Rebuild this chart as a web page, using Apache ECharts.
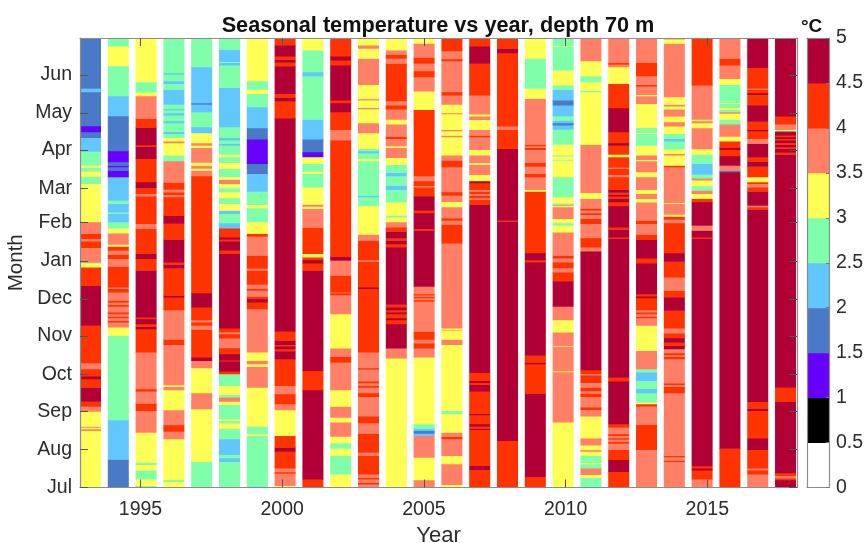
<!DOCTYPE html>
<html><head><meta charset="utf-8">
<script src="https://cdn.jsdelivr.net/npm/echarts@6/dist/echarts.min.js"></script>
<style>html,body{margin:0;padding:0;background:#fff}#c{width:867px;height:543px}</style>
</head><body><div id="c"></div>
<script>
const monthNames = ['Jul','Aug','Sep','Oct','Nov','Dec','Jan','Feb','Mar','Apr','May','Jun'];
const monthStarts = [0,31,62,92,123,153,184,215,243,274,304,335];
const yearTicks = [1995,2000,2005,2010,2015];
const classColors = ['#ffffff','#000000','#6600ff','#4a7ac7','#62c6ff','#80ffab','#ffff55','#ff8066','#ff3300','#b00035'];
const classEdges = [0,0.5,1,1.5,2,2.5,3,3.5,4,4.5,5];
// Each season: [day since 1 Jul where the reading begins, temperature in deg C]
const t1993=[[0,3.25],[46.3,3.75],[47.7,3.25],[49,3.75],[49.8,3.25],[62,3.75],[66,4.25],[70,4.75],[81.5,4.25],[88.3,4.75],[90.5,4.25],[96.4,3.75],[101.3,4.25],[131.7,4.75],[164,4.25],[179,3.25],[182.3,2.75],[183,3.75],[194.8,4.25],[200.2,3.75],[202.1,4.25],[206.2,3.75],[215.7,3.25],[246.8,2.75],[252.8,3.25],[256.9,2.75],[259.9,3.25],[261.7,2.75],[273.1,2.25],[284.2,1.75],[288.8,1.25],[293.7,1.75],[321.4,2.25],[324.1,1.75]];
const t1994=[[0,1.75],[23,2.25],[55,2.75],[123.5,3.25],[130.3,3.75],[134.4,4.25],[135.7,3.75],[137.9,4.25],[139,3.75],[141.1,4.25],[142.5,3.75],[147.1,4.25],[148.7,3.75],[150.4,4.25],[152,3.75],[158.8,4.25],[161.5,3.75],[162.8,4.25],[179.6,3.75],[185.9,4.25],[189.4,3.75],[192.6,4.25],[195.9,3.25],[197.5,3.75],[206.7,3.25],[210.8,2.75],[215.7,2.25],[222.5,2.75],[223.8,2.25],[230.6,2.75],[233.3,2.25],[252.3,1.25],[257.7,1.75],[260.4,1.25],[261.7,1.75],[264.5,1.25],[273.4,1.75],[301.9,2.25],[318.1,2.75],[342.5,3.25],[358.5,2.75]];
const t1995=[[0,2.75],[1.6,3.25],[7,2.75],[14.3,3.25],[18.6,2.75],[20.5,3.25],[44.9,3.75],[62.5,4.25],[68.5,3.75],[78.3,4.25],[80.2,3.75],[110,4.25],[128.9,4.75],[130.8,4.25],[133,4.75],[137.1,4.25],[138.4,4.75],[176.4,4.25],[186,4.75],[190,4.25],[210.3,3.75],[214.3,4.25],[236.8,3.75],[238.7,4.25],[243.6,4.75],[248.2,4.25],[267.2,4.75],[277.2,4.25],[278.3,4.75],[292.4,4.25],[299.7,3.75],[318.1,3.25],[321.4,2.75],[329.5,3.25]];
const t1996=[[0,3.25],[4.8,2.75],[6.5,3.25],[39.5,3.75],[45.7,4.25],[50.9,3.75],[63.1,3.25],[79.4,3.75],[82.1,3.25],[83.4,3.75],[116.2,4.25],[120.3,3.75],[144.4,4.25],[154.7,4.75],[156,4.25],[178.5,4.75],[181.2,4.25],[183.2,4.75],[201.6,4.25],[214.6,4.75],[220.8,4.25],[236,3.75],[237.9,4.25],[240,3.75],[242.2,4.25],[247.9,3.75],[265.3,2.75],[269.9,3.25],[279.9,3.75],[281.3,3.25],[284.2,2.75],[287.5,2.25],[289.1,2.75],[296.2,2.25],[297.8,2.75],[302.4,2.25],[304.3,2.75],[306.5,2.25],[307.5,2.75],[311.3,2.25],[323.3,2.75],[328.1,2.25],[330.3,2.75],[335.5,2.25],[336.8,2.75]];
const t1997=[[0,2.75],[21.1,3.25],[63.9,3.75],[76.9,3.25],[97.2,3.75],[103.2,4.75],[105.9,4.25],[128.4,3.75],[131.7,4.25],[134.4,3.75],[136.3,4.25],[146.6,4.75],[158.2,4.25],[253.1,3.75],[257.7,3.25],[259.3,3.75],[261.7,3.25],[264.2,3.75],[276.1,3.25],[278,3.75],[279.9,3.25],[288,2.25],[292.9,2.75],[305.1,2.25],[311.3,1.75],[312.4,2.25],[341.7,2.75]];
const t1998=[[0,2.75],[21.1,2.25],[24.1,2.75],[26.8,2.25],[39.5,2.75],[48.2,3.25],[52.3,2.75],[54.4,3.25],[55.8,2.75],[67.4,3.25],[70.1,3.75],[73.4,2.75],[75.6,3.25],[82.9,2.75],[92.4,4.25],[94.5,4.75],[102.7,4.25],[103.5,4.75],[108.6,4.25],[113.5,3.75],[121.4,4.25],[124.9,3.75],[126.5,4.25],[129.5,4.75],[190,4.25],[192.6,4.75],[200.2,4.25],[201.6,4.75],[203.5,4.25],[210.8,2.25],[214.9,2.75],[222.5,2.25],[225.2,3.25],[230.6,2.75],[235.2,3.25],[240.1,2.75],[243.3,3.25],[246.8,3.75],[250.4,3.25],[252.3,2.75],[259,3.25],[263.9,2.75],[268.5,3.25],[270.7,2.75],[278,2.25],[279.4,2.75],[282.1,2.25],[284.2,2.75],[292.9,2.25],[324.9,2.75],[343,2.25],[345.2,2.75],[346,2.25],[355.8,2.75]];
const t1999=[[0,2.25],[1,2.75],[42.2,3.25],[43.6,2.75],[49.8,3.25],[81.5,3.75],[98.3,3.25],[100.5,3.75],[103.2,3.25],[110,3.75],[145.2,4.25],[150.6,4.75],[153.3,4.25],[155.2,3.75],[160.1,4.25],[161.7,3.75],[165,4.25],[176.4,3.75],[178,4.25],[188.6,3.75],[204,4.25],[206.2,3.25],[215.7,2.75],[227.1,3.25],[229.8,2.75],[240.6,2.25],[255,1.75],[263.1,1.25],[282.9,1.75],[292.1,2.25],[309.2,2.75],[320,3.25],[323.3,2.75],[330.3,3.25]];
const t2000=[[0,3.25],[1.6,3.75],[11.6,4.25],[12.7,3.75],[15.9,4.25],[29.5,4.75],[32.7,4.25],[42.2,3.25],[63.1,3.75],[68,4.25],[76.1,3.75],[82.9,4.25],[104.5,4.75],[110.8,4.25],[112.7,4.75],[114.9,4.25],[116.2,4.75],[119.5,4.25],[127,4.75],[300,4.25],[314,4.75],[316.8,4.25],[320,4.75],[342.2,4.25],[345.5,4.75],[347.7,4.25],[350.4,4.75],[359.3,4.25]];
const t2001=[[0,4.25],[7,4.75],[79.4,4.25],[95.1,4.75],[176.4,4.25],[182.3,4.75],[185,4.25],[187.2,3.25],[190,4.25],[211.1,3.75],[226.5,3.25],[228.4,3.75],[230,3.25],[244.1,2.75],[255,3.25],[256.9,2.75],[263.1,3.25],[268.5,1.25],[272.6,1.75],[282.9,2.25],[299.1,2.75],[334.4,2.25],[337.6,2.75],[355.2,3.25]];
const t2002=[[0,3.25],[11,2.75],[26,3.25],[31.9,2.75],[36.3,3.25],[41.7,3.75],[53.1,3.25],[57.1,3.75],[66,3.25],[79.4,3.75],[101.8,4.25],[106.5,3.75],[113.2,3.25],[141.1,3.75],[156.6,4.25],[158.2,3.75],[158.8,4.25],[172.3,3.75],[184.5,4.75],[187.8,4.25],[282.1,3.75],[290.7,4.25],[305.1,4.75],[312.4,4.25],[314.6,4.75],[343,4.25],[347.1,4.75],[350.4,4.25]];
const t2003=[[0,3.75],[2.9,4.25],[4.3,3.75],[7,4.25],[8.4,3.75],[11,4.25],[26,3.75],[28.7,4.25],[44.1,3.75],[52.5,4.25],[58,3.75],[73.9,4.25],[76.9,3.75],[81.5,4.25],[83.1,3.75],[85,4.25],[86.4,3.75],[96.2,4.25],[97.2,3.75],[110,4.25],[161.5,4.75],[162.8,4.25],[183.7,3.75],[185,4.25],[200.8,3.75],[205.6,3.25],[228.7,2.75],[236,2.25],[237.4,2.75],[265.3,3.25],[267.2,2.75],[271.8,2.25],[273.4,2.75],[275.3,3.25],[288,3.75],[296.2,3.25],[307.5,3.75],[308.6,3.25],[314.6,3.75],[315.7,3.25],[327.3,3.75],[348.5,3.25],[356.6,3.75],[359.3,3.25]];
const t2004=[[0,3.25],[105.1,3.75],[113.2,4.75],[133,4.25],[136.3,4.75],[137.9,4.25],[141.1,4.75],[142.5,4.25],[144.4,4.75],[146.6,4.25],[148.7,4.75],[195.3,4.25],[198,4.75],[200.8,4.25],[202.9,4.75],[208.1,4.25],[211.6,3.75],[215.7,3.25],[219.7,2.75],[221.1,3.25],[231.9,2.75],[242,2.25],[245.5,2.75],[253.1,2.25],[255.8,2.75],[262.3,3.25],[268,3.75],[276.1,3.25],[277.5,3.75],[283.4,4.25],[285.3,3.75],[295.1,3.25],[299.1,3.75],[307.3,4.25],[310.5,3.75],[314,4.25],[344.4,3.75],[348.5,4.25],[351.7,3.75],[355.2,3.25]];
const t2005=[[0,3.25],[0.8,3.75],[6.2,3.25],[24.6,3.75],[42.2,2.25],[44.1,1.75],[46.3,2.25],[48.2,2.75],[51.7,3.25],[105.9,3.75],[113.2,4.25],[117.3,3.75],[120.3,4.25],[126.8,3.75],[151.2,4.25],[152.5,3.75],[154.1,4.25],[155.2,3.75],[156.3,4.25],[157.4,3.75],[163.4,4.75],[208.9,4.25],[210.3,4.75],[223,4.25],[225.2,4.75],[236.8,4.25],[244.1,3.75],[245.2,4.25],[249,3.75],[253.1,4.25],[307,3.25],[321.9,3.75],[333.6,4.25],[338.4,3.75],[344.4,4.25],[349.3,3.75],[360.7,3.25]];
const t2006=[[0,3.75],[0.8,3.25],[2.4,3.75],[19.2,3.25],[26,3.75],[39.5,4.25],[41.4,3.75],[44.9,3.25],[59.8,2.75],[62.5,3.25],[116.2,3.75],[120.3,3.25],[127.6,3.75],[128.1,3.25],[129.5,3.75],[198.6,4.25],[213.8,3.75],[217,4.25],[218.9,3.75],[227.9,3.25],[232.2,3.75],[237.4,4.25],[240.1,3.75],[260.4,4.25],[265.8,3.75],[269.9,3.25],[284.8,3.75],[286.1,3.25],[289.7,3.75],[290.7,3.25],[303.5,3.75],[304.3,3.25],[311.3,3.75],[318.7,4.25],[321.4,3.75],[346.6,4.25],[348.2,3.75],[354.7,4.25]];
const t2007=[[0,4.25],[14.6,4.75],[17.8,4.25],[47.1,4.75],[48.2,4.25],[49.8,4.75],[51.7,4.25],[59,4.75],[60.1,4.25],[78.3,4.75],[83.7,4.25],[85.3,4.75],[86.9,4.25],[93.4,4.75],[230,4.25],[233.8,3.75],[235.2,4.25],[237.4,3.75],[238.7,4.25],[240.6,3.75],[242,4.25],[247.4,4.75],[249,3.25],[254.2,3.75],[262.3,3.25],[263.9,3.75],[269.9,3.25],[274.5,3.75],[284.8,4.25],[286.1,3.75],[290.7,3.25],[298.9,3.75],[301.6,3.25],[303.2,3.75],[318.7,4.25],[344.4,4.75],[358.5,4.25]];
const t2008=[[0,4.25],[38.2,4.75],[216.2,4.25],[217,4.75],[275.3,4.25],[290.7,3.75],[293.5,4.25],[353.1,4.75],[356.6,4.25]];
const t2009=[[0,4.25],[8.9,4.75],[76.6,4.25],[100.5,4.75],[101.8,4.25],[107.3,4.75],[183.1,4.25],[185,4.75],[190.7,4.25],[240.6,3.25],[242,3.75],[252.3,4.25],[255,3.75],[260.9,4.25],[263.9,3.75],[274.5,4.25],[276.1,3.75],[277.5,4.25],[278.8,3.75],[315.9,3.25],[324.1,2.75],[348.5,3.25]];
const t2010=[[0,3.25],[53.1,3.75],[94,3.25],[94.8,3.75],[114.6,3.25],[115.4,3.75],[126.2,3.25],[136.3,3.75],[147.1,4.75],[167.7,4.25],[175,3.75],[178.5,4.25],[183.2,3.75],[186.4,4.25],[188.6,3.75],[207.5,3.25],[213,2.75],[214.9,3.25],[218.4,3.75],[227.9,3.25],[229.2,3.75],[230,2.75],[231.1,3.25],[236,2.75],[252.3,3.25],[265.8,2.75],[266.6,3.25],[269.1,2.75],[269.9,3.25],[278.8,2.75],[291,2.25],[294.3,1.75],[296.2,2.25],[298.3,2.75],[301.9,2.25],[310.5,1.75],[314.6,2.25],[323.3,2.75],[326.8,3.25],[339,2.75],[358,3.25],[358.8,2.75]];
const t2011=[[0,2.75],[8.4,3.25],[10.5,3.75],[15.9,2.75],[19.2,3.25],[20.3,2.75],[26,3.25],[29.5,3.75],[30.6,3.25],[34.6,3.75],[40.1,3.25],[58,3.75],[63.4,4.25],[65.3,3.75],[73.9,4.25],[76.6,3.75],[78.5,4.25],[81.5,3.75],[85.3,4.25],[91.3,3.75],[92.6,4.25],[95.6,4.75],[192.1,3.75],[195.3,4.25],[202.9,3.75],[214.3,4.25],[218.4,3.75],[221.6,4.25],[223,3.75],[225.2,4.25],[226.8,3.75],[234.6,3.25],[239.5,3.75],[278.5,3.25],[321.4,2.75],[322.4,3.25],[329.5,2.75],[334.4,3.25],[346.6,3.75]];
const t2012=[[0,3.75],[0.8,4.25],[13,4.75],[22.7,4.25],[30.9,3.75],[36,4.25],[37.3,3.75],[39.2,4.25],[40.3,3.75],[42.2,4.25],[43.6,3.75],[49,4.25],[51.7,4.75],[86.4,4.25],[89.6,4.75],[202.1,4.25],[203.5,4.75],[209.7,4.25],[211.6,4.75],[228.7,4.25],[232,4.75],[234.6,4.25],[236.8,4.75],[238.2,4.25],[239.8,4.75],[242.2,4.25],[252.3,3.75],[254.2,4.25],[259,3.75],[260.1,4.25],[268.5,3.25],[270.7,4.25],[278,4.75],[279.9,4.25],[288.8,4.75],[308.4,4.25],[328.1,3.25],[333.6,3.25],[341.7,3.75],[343.6,4.25],[345.2,3.75]];
const t2013=[[0,3.75],[30.8,4.25],[51.2,3.75],[66.1,4.25],[68,3.25],[69.3,2.75],[76.9,2.25],[80.4,2.75],[86.9,2.25],[93.7,2.75],[96.4,3.75],[111.3,3.25],[131.7,3.75],[137.9,4.25],[139,3.75],[141.1,4.25],[142.5,3.75],[144.4,4.25],[154.1,4.75],[155.5,4.25],[157.4,4.75],[182.3,4.25],[186.4,4.75],[201.3,4.25],[205.6,3.75],[214.3,4.25],[217,3.75],[231.9,3.25],[234.6,3.75],[238.7,3.25],[242,3.75],[252.3,3.25],[256.3,3.75],[265.3,3.25],[266.3,3.75],[269.9,3.25],[278,2.75],[287.5,3.25],[288.3,2.75],[292.4,3.25],[311.9,3.75],[318.1,3.25],[319.2,3.75],[326,4.25],[327.3,3.75],[334.4,4.25],[345.2,3.75]];
const t2014=[[0,3.75],[21.1,4.25],[22.2,3.75],[24.9,4.25],[26,3.75],[76.9,4.25],[82.1,3.75],[83.7,4.25],[84.8,3.75],[104.5,4.25],[106.5,3.75],[107.8,4.25],[109.4,3.75],[112.7,4.75],[115.4,4.25],[118.1,4.75],[121.6,4.25],[125.4,3.75],[129.5,4.25],[143.9,4.75],[154.7,4.25],[160.1,3.75],[171,4.25],[183.7,4.75],[190.7,4.25],[214.9,3.75],[217.9,4.25],[220.3,3.25],[221.9,3.75],[230.6,3.25],[231.4,3.75],[260.4,4.25],[261.7,3.25],[269.9,3.75],[271.2,3.25],[274.8,2.75],[281.3,2.25],[283.4,2.75],[287.5,3.25],[293.5,3.75],[297,3.25],[301.6,3.75],[307.3,3.25],[309.7,3.75],[311.3,3.25],[317.3,3.75],[360.7,3.25],[364.2,3.75]];
const t2015=[[0,3.75],[7,4.25],[14.3,4.75],[15.9,4.25],[17.6,4.75],[202.1,4.25],[203.5,4.75],[208.9,3.75],[213,4.75],[232,4.25],[234.6,3.25],[238.7,3.75],[241.4,2.75],[245,3.25],[249.6,3.75],[251.4,2.75],[254.4,2.25],[263.1,2.75],[270.7,3.25],[275,3.75],[292.1,3.25],[296.2,3.75],[297.8,3.25],[299.1,3.75],[326.8,4.25]];
const t2016=[[0,4.25],[31.9,4.75],[256.3,1.75],[257.7,3.75],[261.7,4.75],[269.3,4.25],[274.5,4.75],[276.1,4.25],[281.3,3.25],[285.3,3.75],[295.1,2.75],[298.9,3.25],[303.8,3.75],[305.1,2.75],[307,3.25],[308.6,2.75],[311.9,3.25],[312.7,2.75],[327.3,3.25],[332.2,3.75],[343,4.25],[348.5,3.75]];
const t2017=[[0,3.75],[11,4.25],[14.3,3.75],[15.9,4.25],[30.8,4.75],[40.1,4.25],[62.5,4.75],[64.4,4.25],[69.9,4.75],[226,4.25],[227.9,3.75],[229.2,4.75],[240.6,4.25],[244.1,3.75],[246.8,4.25],[248.2,3.25],[252.3,4.25],[260.9,4.75],[265,4.25],[268.5,4.75],[279.4,3.75],[283.4,4.25],[289.7,4.75],[290.7,4.25],[297.5,4.75],[310.5,4.25],[319.2,4.75],[320.5,4.25],[323.3,3.75],[324.1,4.25],[341.1,4.75]];
const t2018=[[0,4.75],[6.2,4.25],[7.8,3.75],[9.7,4.25],[11.9,4.75],[70.1,4.25],[81.5,4.75],[270.7,4.25],[272.3,4.75],[275.3,4.25],[276.6,4.75],[278.8,4.25],[280.2,4.75],[282.1,4.25],[283.4,4.75],[284.8,4.25],[286.1,4.75],[289.4,3.25],[290.7,3.75],[295.1,4.25],[301.6,4.75]];
const seasons = [t1993,t1994,t1995,t1996,t1997,t1998,t1999,t2000,t2001,t2002,t2003,t2004,t2005,t2006,t2007,t2008,t2009,t2010,t2011,t2012,t2013,t2014,t2015,t2016,t2017,t2018];

const DAYS = 365, X_MIN = 1992.865, X_MAX = 2018.165, COL_STEP = 0.981, COL_WIDTH = 0.741;
const INK = '#2b2b2b', FRAME = '#8c8c8c', FONT = '"Liberation Sans", Arial, sans-serif';
const colorOf = t => classColors[Math.floor(t / 0.5)];

const cells = [];
seasons.forEach((segs, i) => segs.forEach((s, j) => {
  const end = j + 1 < segs.length ? segs[j + 1][0] : DAYS;
  const x0 = X_MIN + i * COL_STEP;
  cells.push([x0, x0 + COL_WIDTH, s[0], end, s[1]]);
}));
const barCells = classColors.map((c, k) => [0, 1, classEdges[k], classEdges[k + 1], classEdges[k] + 0.25]);

function rectItem(params, api) {
  const a = api.coord([api.value(0), api.value(3)]);
  const b = api.coord([api.value(1), api.value(2)]);
  return { type: 'rect', shape: { x: a[0], y: a[1], width: b[0] - a[0], height: b[1] - a[1] + 0.5 },
    style: { fill: colorOf(api.value(4)) } };
}
const frame = { show: true, onZero: false, lineStyle: { color: FRAME, width: 1.2 } };
const xTicks = { show: true, inside: true, length: 8, customValues: yearTicks, lineStyle: { color: '#555', width: 1 } };
const yTicks = { show: true, inside: true, length: 8, customValues: monthStarts, lineStyle: { color: '#555', width: 1 } };
const labelStyle = { color: INK, fontSize: 19.5, fontFamily: FONT };

const chart = echarts.init(document.getElementById('c'), null, { renderer: 'canvas' });
chart.setOption({
  animation: false, backgroundColor: '#fff',
  title: [
    { text: 'Seasonal temperature vs year, depth 70 m', left: 433, top: 10, textAlign: 'center',
      textStyle: { fontSize: 21.7, fontWeight: 'bold', color: '#111', fontFamily: FONT } },
    { text: '°C', left: 796, top: 12, textStyle: { fontSize: 19, fontWeight: 'bold', color: '#111', fontFamily: FONT } }
  ],
  grid: [
    { left: 80, top: 38, width: 717, height: 449.5, outerBoundsMode: 'none' },
    { left: 807, top: 38, width: 22, height: 449.5, outerBoundsMode: 'none' }
  ],
  xAxis: [
    { gridIndex: 0, type: 'value', min: X_MIN, max: X_MAX, position: 'bottom', z: 10, splitLine: { show: false },
      axisLine: frame, axisTick: xTicks, name: 'Year', nameLocation: 'middle', nameGap: 37, nameMoveOverlap: false,
      nameTextStyle: { color: INK, fontSize: 22, fontFamily: FONT },
      axisLabel: { ...labelStyle, margin: 12, customValues: yearTicks, formatter: v => String(v) } },
    { gridIndex: 0, type: 'value', min: X_MIN, max: X_MAX, position: 'top', z: 10, splitLine: { show: false },
      axisLine: frame, axisTick: xTicks, axisLabel: { show: false } },
    { gridIndex: 1, type: 'value', min: 0, max: 1, position: 'bottom', z: 10, splitLine: { show: false },
      axisLine: frame, axisTick: { show: false }, axisLabel: { show: false } },
    { gridIndex: 1, type: 'value', min: 0, max: 1, position: 'top', z: 10, splitLine: { show: false },
      axisLine: frame, axisTick: { show: false }, axisLabel: { show: false } }
  ],
  yAxis: [
    { gridIndex: 0, type: 'value', min: 0, max: DAYS, position: 'left', z: 10, splitLine: { show: false },
      axisLine: frame, axisTick: yTicks, name: 'Month', nameLocation: 'middle', nameGap: 53, nameRotate: 90, nameMoveOverlap: false,
      nameTextStyle: { color: INK, fontSize: 20.5, fontFamily: FONT },
      axisLabel: { ...labelStyle, margin: 8, customValues: monthStarts,
        formatter: v => monthNames[monthStarts.indexOf(v)] } },
    { gridIndex: 0, type: 'value', min: 0, max: DAYS, position: 'right', z: 10, splitLine: { show: false },
      axisLine: frame, axisTick: yTicks, axisLabel: { show: false } },
    { gridIndex: 1, type: 'value', min: 0, max: 5, interval: 0.5, position: 'right', z: 10, splitLine: { show: false },
      axisLine: frame, axisTick: { show: true, inside: true, length: 3, lineStyle: { color: '#777' } },
      axisLabel: { ...labelStyle, margin: 7 } },
    { gridIndex: 1, type: 'value', min: 0, max: 5, position: 'left', z: 10, splitLine: { show: false },
      axisLine: frame, axisTick: { show: false }, axisLabel: { show: false } }
  ],
  series: [
    { type: 'custom', coordinateSystem: 'cartesian2d', xAxisIndex: 0, yAxisIndex: 0, clip: true, z: 2,
      encode: { x: [0, 1], y: [2, 3] }, renderItem: rectItem, data: cells },
    { type: 'custom', coordinateSystem: 'cartesian2d', xAxisIndex: 2, yAxisIndex: 2, clip: true, z: 2,
      encode: { x: [0, 1], y: [2, 3] }, renderItem: rectItem, data: barCells }
  ]
});
</script></body></html>
